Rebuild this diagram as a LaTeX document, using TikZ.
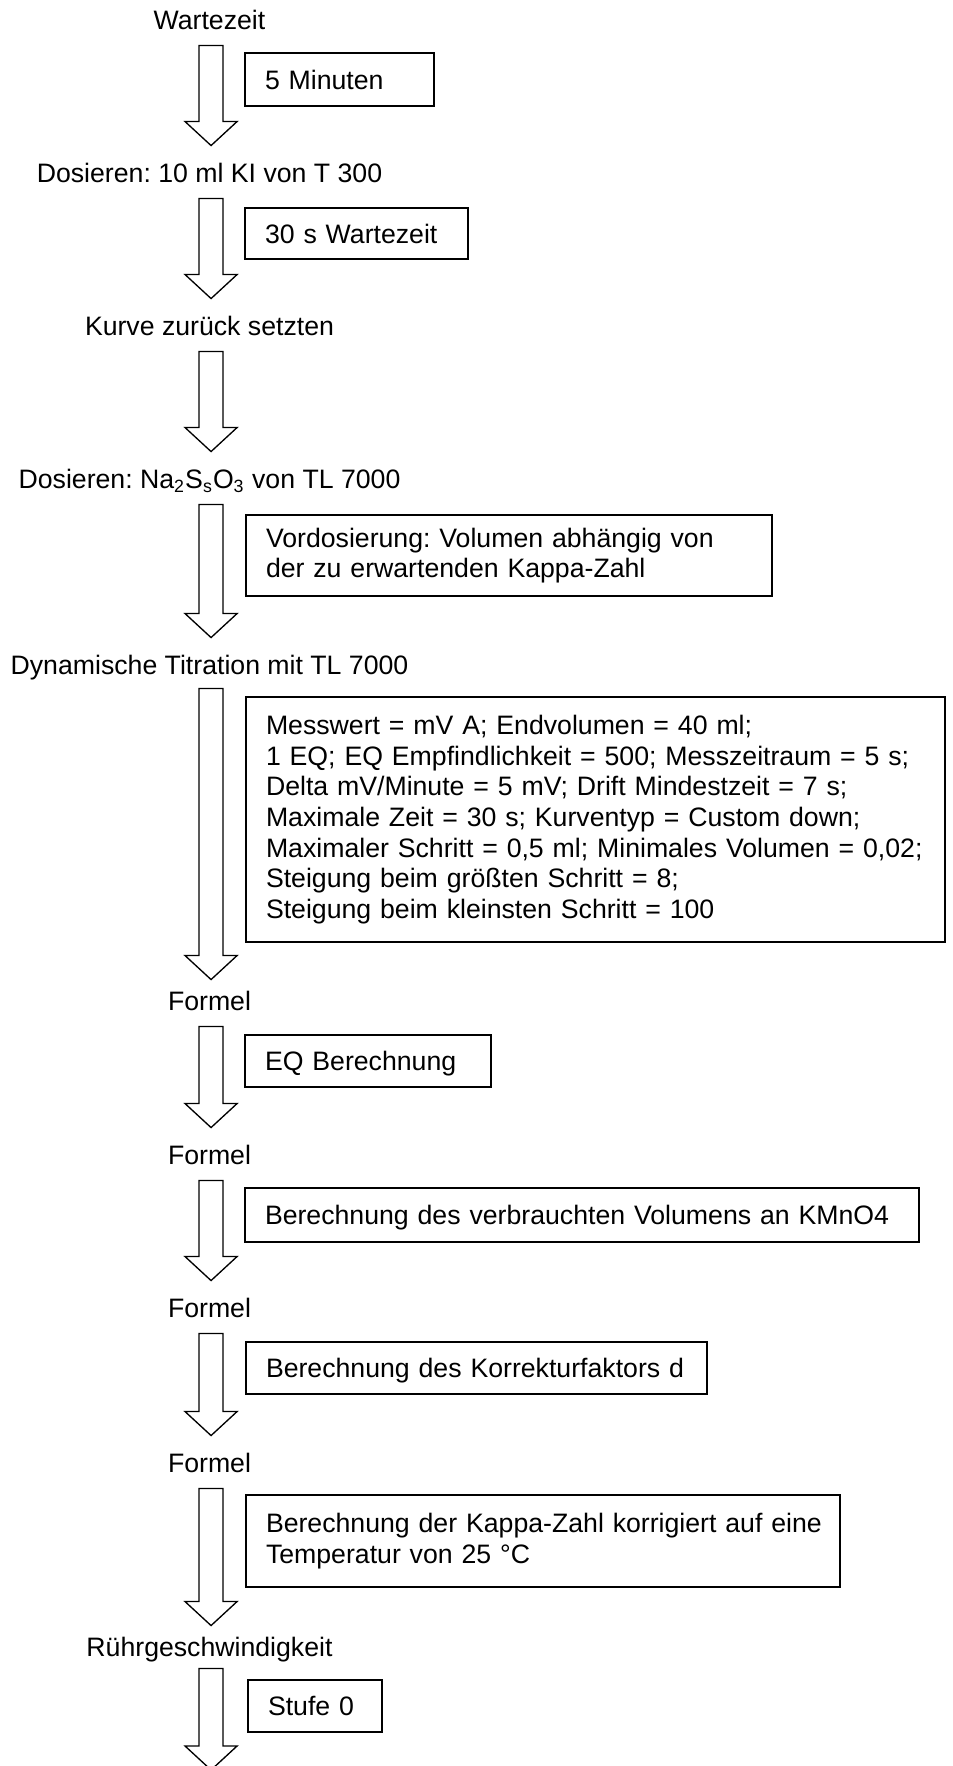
\documentclass[tikz,border=0pt]{standalone}
\usepackage{fontspec}
\setmainfont{Liberation Sans}
\usepackage{tikz}
\usetikzlibrary{calc}
\frenchspacing

\tikzset{
  lbl/.style={anchor=base, inner sep=0pt, text height=16.2pt, text depth=7.2pt},
  infobox/.style={draw, fill=white, line width=0.6pt, anchor=north west, outer sep=0pt,
    inner xsep=9pt, inner ysep=0pt, align=left},
  oneline/.style={text height=8.6pt, text depth=0pt},
  flowarrow/.style={draw, fill=white, line width=0.6pt, to path={
    let \p1=(\tikztostart), \p2=(\tikztotarget) in
    (\x1-4.7pt,\y1) -- (\x1+6.1pt,\y1) -- (\x1+6.1pt,\y2+10.8pt) -- (\x1+12.4pt,\y2+10.8pt)
    -- (\x1+0.7pt,\y2) -- (\x1-11pt,\y2+10.8pt) -- (\x1-4.7pt,\y2+10.8pt) -- cycle}}
}

\begin{document}
\begin{tikzpicture}[x=0.45pt, y=-0.45pt, every node/.style={font=\fontsize{12}{13.8}\selectfont}]
      \useasboundingbox (0,0) rectangle (952,1766);
      \clip (0,0) rectangle (952,1766);

      \node[lbl] (wartezeit) at (209.5,29) {Wartezeit};
      \node[lbl] (dosierenki) at (209.5,182) {Dosieren: 10 ml KI von T 300};
      \node[lbl] (kurve) at (209.5,335) {Kurve zurück setzten};
      \node[lbl] (dosierenna) at (209.5,488) {Dosieren: Na\textsubscript{2}S\textsubscript{s}O\textsubscript{3} von TL 7000};
      \node[lbl, text depth=6.3pt] (titration) at (209.5,674) {Dynamische Titration mit TL 7000};
      \node[lbl, text height=13.5pt] (formela) at (209.5,1010) {Formel};
      \node[lbl] (formelb) at (209.5,1164) {Formel};
      \node[lbl] (formelc) at (209.5,1317) {Formel};
      \node[lbl] (formeld) at (209.5,1472) {Formel};
      \node[lbl, text height=13.5pt, text depth=5.4pt] (ruehren) at (209.5,1656) {Rührgeschwindigkeit};
      \coordinate (ende) at (209.5,1770);

      \draw[flowarrow] (wartezeit.south) to (dosierenki.north);
      \draw[flowarrow] (dosierenki.south) to (kurve.north);
      \draw[flowarrow] (kurve.south) to (dosierenna.north);
      \draw[flowarrow] (dosierenna.south) to (titration.north);
      \draw[flowarrow] (titration.south) to (formela.north);
      \draw[flowarrow] (formela.south) to (formelb.north);
      \draw[flowarrow] (formelb.south) to (formelc.north);
      \draw[flowarrow] (formelc.south) to (formeld.north);
      \draw[flowarrow] (formeld.south) to (ruehren.north);
      \draw[flowarrow] (ruehren.south) to (ende);

      \node[infobox, oneline, text width=67.05pt, minimum height=23.85pt] (minuten) at (245,53) {5 Minuten};
      \node[infobox, oneline, text width=82.35pt, minimum height=22.95pt] (warten) at (245,208) {30 s Wartezeit};
      \node[infobox, text width=218.7pt, minimum height=36.45pt] (vordosierung) at (246,515)
        {Vordosierung: Volumen abhängig von\\der zu erwartenden Kappa-Zahl};
      \node[infobox, text width=296.55pt, minimum height=110.25pt] (parameter) at (246,697)
        {Messwert = mV A; Endvolumen = 40 ml;\\
         1 EQ; EQ Empfindlichkeit = 500; Messzeitraum = 5 s;\\
         Delta mV/Minute = 5 mV; Drift Mindestzeit = 7 s;\\
         Maximale Zeit = 30 s; Kurventyp = Custom down;\\
         \mbox{Maximaler Schritt = 0,5 ml; Minimales Volumen = 0,02;}\\
         Steigung beim größten Schritt = 8;\\
         Steigung beim kleinsten Schritt = 100};
      \node[infobox, oneline, text width=92.7pt, minimum height=23.4pt] (eq) at (245,1035) {EQ Berechnung};
      \node[infobox, oneline, text width=285.3pt, minimum height=24.3pt] (volumen) at (245,1188)
        {Berechnung des verbrauchten Volumens an KMnO4};
      \node[infobox, oneline, text width=189.45pt, minimum height=23.4pt] (korrektur) at (246,1342)
        {\mbox{Berechnung des Korrekturfaktors d}};
      \node[infobox, text width=249.3pt, minimum height=41.4pt] (kappa) at (246,1495)
        {\mbox{Berechnung der Kappa-Zahl korrigiert auf eine}\\Temperatur von 25 °C};
      \node[infobox, oneline, text width=42.3pt, minimum height=23.4pt] (stufe) at (248,1680) {Stufe 0};
\end{tikzpicture}
\end{document}
